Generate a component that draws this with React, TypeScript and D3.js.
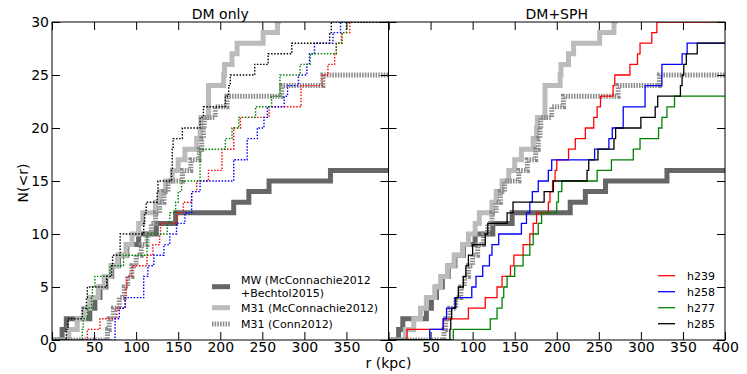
import * as d3 from 'd3';
import React, { useEffect, useRef } from 'react';

// axis ticks
const xTicksLeft = [0, 50, 100, 150, 200, 250, 300, 350];
const xTicksRight = [0, 50, 100, 150, 200, 250, 300, 350, 400];
const yTicks = [0, 5, 10, 15, 20, 25, 30];

// radii (kpc) at which N(<r) goes up by one -- observations
const mwRadii = [12, 17, 45, 51, 57, 64, 71, 79, 89, 103, 124, 147, 216, 234, 258, 331];
const m31McRadii = [20, 30, 38, 45, 55, 62, 70, 78, 88, 95, 103, 108, 123, 128, 135, 143, 150, 158, 172, 176, 177, 186, 186, 186, 204, 205, 214, 220, 251, 268, 269, 285, 300, 330];
const m31ConnRadii = [66, 68, 73, 80, 86, 90, 95, 100, 106, 113, 118, 123, 128, 133, 138, 155, 165, 175, 178, 180, 181, 194, 208, 273, 322];

// DM only runs
const h239Dm = [42, 57, 77, 87, 88, 89, 95, 113, 120, 128, 129, 148, 156, 166, 172, 186, 202, 202, 216, 216, 224, 258, 296, 296, 321, 328, 336, 338, 344, 354];
const h258Dm = [75, 75, 80, 87, 109, 109, 114, 121, 133, 140, 148, 158, 166, 166, 176, 216, 216, 232, 232, 244, 252, 256, 276, 280, 293, 303, 306, 312, 334, 343];
const h277Dm = [36, 37, 42, 47, 48, 51, 69, 85, 113, 113, 137, 140, 147, 150, 154, 176, 176, 176, 206, 214, 222, 242, 261, 271, 271, 295, 307, 338, 345, 350];
const h285Dm = [17, 19, 36, 41, 42, 65, 71, 72, 81, 81, 109, 110, 112, 125, 126, 142, 143, 143, 144, 155, 176, 180, 206, 210, 212, 241, 257, 285, 330, 332];

// DM+SPH runs
const h239Sph = [22, 65, 95, 115, 129, 135, 145, 149, 160, 168, 172, 176, 190, 192, 195, 198, 200, 214, 222, 234, 244, 248, 252, 267, 269, 287, 296, 299, 313, 319];
const h258Sph = [49, 65, 69, 79, 99, 104, 112, 120, 123, 131, 158, 164, 168, 171, 178, 190, 194, 245, 262, 266, 279, 279, 305, 305, 325, 325, 349, 355];
const h277Sph = [77, 121, 129, 135, 137, 141, 150, 160, 168, 172, 178, 182, 200, 202, 206, 248, 265, 291, 299, 321, 325, 331, 340];
const h285Sph = [73, 74, 75, 80, 83, 89, 92, 95, 100, 115, 118, 141, 148, 185, 196, 236, 238, 249, 268, 270, 300, 317, 320, 347, 349, 351, 354, 367];

const panelTitles = ['DM only', 'DM+SPH'];
const haloNames = ['h239', 'h258', 'h277', 'h285'];
const haloColors = ['#ff0000', '#0000ff', '#008000', '#000000'];

const FONT = 'DejaVu Sans';

const App = () => {
    const ref = useRef<SVGSVGElement>(null);
    const width = 747;
    const height = 374;
    const margin = { top: 22, left: 52, right: 22, bottom: 34 };
    const panelW = (width - margin.left - margin.right) / 2;
    const panelH = height - margin.top - margin.bottom;

    useEffect(() => {
        const svg = d3.select(ref.current);
        svg.selectAll('*').remove();

        const x = d3.scaleLinear().domain([0, 400]).range([0, panelW]);
        const y = d3.scaleLinear().domain([0, 30]).range([panelH, 0]);

        const steps = (radii: number[]) => {
            const pts: [number, number][] = [[0, 0]];
            radii.forEach((r, i) => pts.push([r, i + 1]));
            pts.push([400, radii.length]);
            return pts;
        };
        const line = d3.line<[number, number]>()
            .x(d => x(d[0]))
            .y(d => y(d[1]))
            .curve(d3.curveStepAfter);

        const obs = [
            { radii: mwRadii, color: '#666666', dash: null },
            { radii: m31McRadii, color: '#bbbbbb', dash: null },
            { radii: m31ConnRadii, color: '#8a8a8a', dash: '1.5,1.2' },
        ];

        const halos = [
            [h239Dm, h258Dm, h277Dm, h285Dm],
            [h239Sph, h258Sph, h277Sph, h285Sph],
        ];

        [0, 1].forEach(p => {
            const g = svg.append('g')
                .attr('transform', `translate(${margin.left + p * panelW},${margin.top})`);

            g.append('clipPath').attr('id', 'clip' + p)
                .append('rect').attr('width', panelW).attr('height', panelH);

            const plot = g.append('g').attr('clip-path', `url(#clip${p})`);

            obs.forEach(o => {
                plot.append('path')
                    .attr('d', line(steps(o.radii)))
                    .attr('fill', 'none')
                    .attr('stroke', o.color)
                    .attr('stroke-width', 5)
                    .attr('stroke-dasharray', o.dash);
            });

            halos[p].forEach((radii, i) => {
                plot.append('path')
                    .attr('d', line(steps(radii)))
                    .attr('fill', 'none')
                    .attr('stroke', haloColors[i])
                    .attr('stroke-width', p === 0 ? 1.4 : 1.3)
                    .attr('stroke-dasharray', p === 0 ? '1.5,1.6' : null);
            });

            // axes, ticks pointing inward
            const xb = g.append('g').attr('transform', `translate(0,${panelH})`)
                .call(d3.axisBottom(x).tickValues(p === 0 ? xTicksLeft : xTicksRight)
                    .tickSize(-8).tickPadding(2).tickFormat(d3.format('d')));
            const xt = g.append('g')
                .call(d3.axisTop(x).tickValues(xTicksRight).tickSize(-8).tickFormat(() => ''));
            const yl = g.append('g')
                .call(d3.axisLeft(y).tickValues(yTicks).tickSize(-8).tickPadding(3)
                    .tickFormat(p === 0 ? d3.format('d') : () => ''));
            const yr = g.append('g').attr('transform', `translate(${panelW},0)`)
                .call(d3.axisRight(y).tickValues(yTicks).tickSize(-8).tickFormat(() => ''));

            [xb, xt, yl, yr].forEach(a => {
                a.select('.domain').remove();
                a.selectAll('line').attr('stroke', '#000').attr('stroke-width', 1);
                a.selectAll('text').attr('font-family', FONT).attr('font-size', 14).attr('fill', '#000');
            });

            g.append('rect')
                .attr('width', panelW).attr('height', panelH)
                .attr('fill', 'none').attr('stroke', '#000').attr('stroke-width', 1);

            g.append('text')
                .attr('x', panelW / 2).attr('y', -3)
                .attr('text-anchor', 'middle')
                .attr('font-family', FONT).attr('font-size', 14)
                .text(panelTitles[p]);
        });

        // axis labels
        svg.append('text')
            .attr('x', margin.left + panelW).attr('y', 368)
            .attr('text-anchor', 'middle')
            .attr('font-family', FONT).attr('font-size', 14)
            .text('r (kpc)');
        svg.append('text')
            .attr('transform', `translate(28,${margin.top + panelH / 2 + 2}) rotate(-90)`)
            .attr('text-anchor', 'middle')
            .attr('font-family', FONT).attr('font-size', 14)
            .text('N(<r)');

        // legend, left panel
        const legL = svg.append('g');
        const obsRows = [
            { lines: ['MW (McConnachie2012', '+Bechtol2015)'], y: 286.7 },
            { lines: ['M31 (McConnachie2012)'], y: 307.7 },
            { lines: ['M31 (Conn2012)'], y: 324 },
        ];
        obsRows.forEach((row, i) => {
            legL.append('line')
                .attr('x1', 212).attr('x2', 230).attr('y1', row.y).attr('y2', row.y)
                .attr('stroke', obs[i].color).attr('stroke-width', 5)
                .attr('stroke-dasharray', obs[i].dash);
            row.lines.forEach((t, j) => {
                legL.append('text')
                    .attr('x', 241)
                    .attr('y', row.y + (row.lines.length > 1 ? (j === 0 ? -6.5 : 6.5) : 0))
                    .attr('dy', '0.36em')
                    .attr('font-family', FONT).attr('font-size', 11)
                    .text(t);
            });
        });

        // legend, right panel
        const legR = svg.append('g');
        haloNames.forEach((name, i) => {
            const ly = 275.7 + i * 16;
            legR.append('line')
                .attr('x1', 658).attr('x2', 675).attr('y1', ly).attr('y2', ly)
                .attr('stroke', haloColors[i]).attr('stroke-width', 1.3);
            legR.append('text')
                .attr('x', 687).attr('y', ly).attr('dy', '0.36em')
                .attr('font-family', FONT).attr('font-size', 11)
                .text(name);
        });
    }, []);

    return (
        <svg ref={ref} width={width} height={height}
            style={{ position: 'absolute', left: 0, top: 0, background: '#fff' }}>
        </svg>
    );
};

export default App;
